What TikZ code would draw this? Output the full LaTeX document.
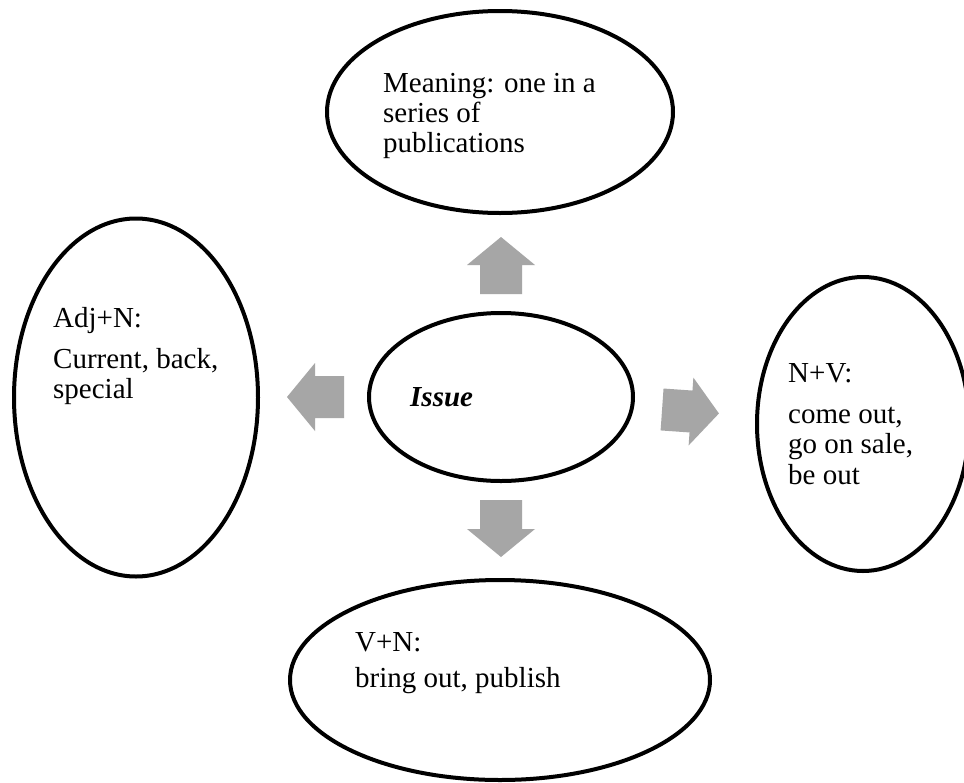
\documentclass[tikz,border=0pt]{standalone}
\usepackage{fontspec}
\setmainfont{Liberation Serif}
\usetikzlibrary{shapes.geometric}
\definecolor{arrgray}{HTML}{A6A6A6}
\tikzset{
  oval/.style={ellipse, draw=black, line width=4pt, inner sep=0pt, fill=white},
  lbl/.style={anchor=base west, inner sep=0pt, font=\fontsize{29}{31}\selectfont},
  hub/.style={anchor=base west, inner sep=0pt, font=\fontsize{29}{31}\selectfont\bfseries\itshape},
  blockarr/.style={fill=arrgray, draw=none},
  blockarrow/.pic={\fill[blockarr] (-29,-21) -- (0,-21) -- (0,-34) -- (28,0) -- (0,34) -- (0,21) -- (-29,21) -- cycle;}
}
\begin{document}
\begin{tikzpicture}[x=1pt,y=-1pt]
\useasboundingbox (0,0) rectangle (964,782);
\clip (0,0) rectangle (964,782);
\fill[white] (0,0) rectangle (964,782);

% ellipses
\node[oval, minimum width=346pt, minimum height=202pt] (meaning) at (500,112) {};
\node[oval, minimum width=244pt, minimum height=358pt] (adjn) at (136,397.5) {};
\node[oval, minimum width=264pt, minimum height=168pt] (issue) at (501,397) {};
\node[oval, minimum width=212pt, minimum height=294pt] (nv) at (863,424) {};
\node[oval, minimum width=420pt, minimum height=200pt] (vn) at (500,680) {};

% texts
\node[lbl] (m1) at (383,92) {Meaning: one in a};
\node[lbl] (m2) at (383,122) {series of};
\node[lbl] (m3) at (383,152) {publications};

\node[lbl] (a1) at (53,327) {Adj+N:};
\node[lbl] (a2) at (53,368) {Current, back,};
\node[lbl] (a3) at (53,398) {special};

\node[hub] (hubtxt) at (410,406) {Issue};

\node[lbl] (n1) at (788,382) {N+V:};
\node[lbl] (n2) at (788,423) {come out,};
\node[lbl] (n3) at (788,453) {go on sale,};
\node[lbl] (n4) at (788,484) {be out};

\node[lbl] (v1) at (355,651) {V+N:};
\node[lbl] (v2) at (355,687) {bring out, publish};

% block arrows
\pic[rotate=90] (arrU) at (501,265) {blockarrow};
\pic[rotate=180] (arrL) at (315,397) {blockarrow};
\pic[rotate=-90] (arrD) at (501,529) {blockarrow};
\pic[rotate=-4] (arrR) at (691,411.5) {blockarrow};
\end{tikzpicture}
\end{document}
